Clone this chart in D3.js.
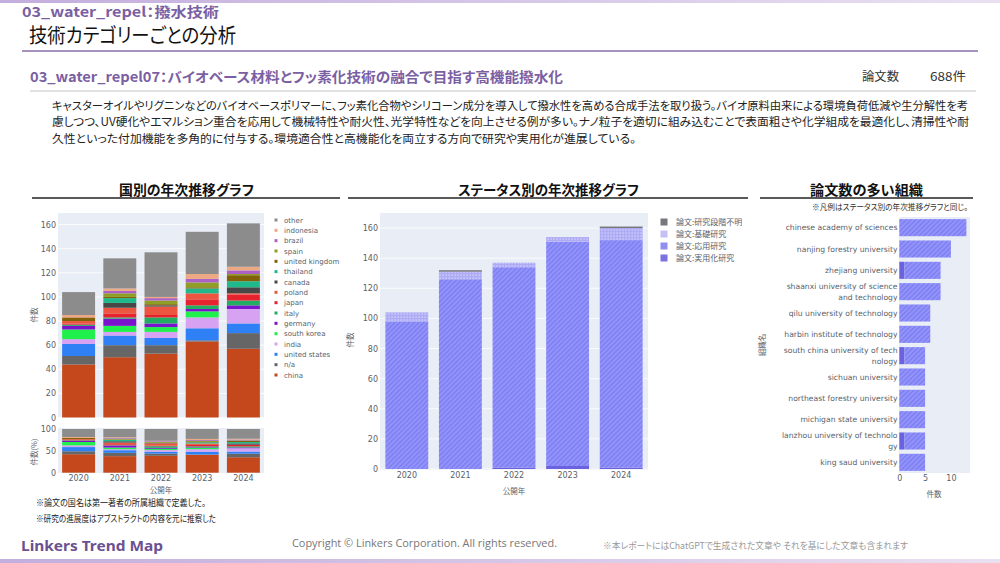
<!DOCTYPE html>
<meta charset="utf-8">
<style>
  html, body { margin: 0; padding: 0; background: #fff; overflow: hidden; }
  text { font-family: "Noto Sans CJK JP", sans-serif; font-feature-settings: "palt"; }
  .tick text, .latin { font-family: "DejaVu Sans", sans-serif; }
</style>

<!-- Load d3.js -->
<script src="https://d3js.org/d3.v7.js"></script>

<!-- Create a div where the graph will take place -->
<div id="my_dataviz"></div>

<script>

// data
const years = ["2020", "2021", "2022", "2023", "2024"];

const china         = [44, 50, 53, 63, 57];
const na            = [ 7, 10,  7,  1, 13];
const unitedStates  = [10,  8,  6, 10,  8];
const india         = [ 4,  3,  5,  9, 12];
const southKorea    = [ 8,  5,  4,  5,  0];
const germany       = [ 3,  6,  3,  2,  3];
const italy         = [ 1,  1,  5,  3,  4];
const japan         = [ 1,  3,  2,  5,  5];
const poland        = [ 2,  5,  7,  5,  1];
const canada        = [ 0,  4,  1,  0,  5];
const thailand      = [ 0,  4,  0,  4,  5];
const unitedKingdom = [ 3,  1,  1,  1,  5];
const spain         = [ 0,  3,  3,  4,  1];
const brazil        = [ 0,  2,  2,  3,  3];
const indonesia     = [ 2,  2,  1,  4,  3];
const other         = [19, 25, 37, 35, 36];

const countryNames = ["china", "n/a", "united states", "india", "south korea", "germany", "italy", "japan",
  "poland", "canada", "thailand", "united kingdom", "spain", "brazil", "indonesia", "other"];
const countrySeries = [china, na, unitedStates, india, southKorea, germany, italy, japan,
  poland, canada, thailand, unitedKingdom, spain, brazil, indonesia, other];
const countryColors = ["#c4481c", "#666666", "#2f7ff5", "#d8a2f2", "#1ff04c", "#7a14cc", "#22ad62", "#e6222e",
  "#ec5540", "#474747", "#1fb98c", "#806208", "#8f9e24", "#ab62c4", "#eda984", "#8c8c8c"];

const statusNames = ["論文:実用化研究", "論文:応用研究", "論文:基礎研究", "論文:研究段階不明"];
const practical = [0, 0, 1, 2, 1];
const applied   = [98, 126, 133, 149, 151];
const basic     = [6, 5, 3, 3, 8];
const unknown   = [0, 1, 0, 0, 1];

const orgNames = ["chinese academy of sciences", "nanjing forestry university", "zhejiang university",
  "shaanxi university of science\nand technology", "qilu university of technology", "harbin institute of technology",
  "south china university of tech\nnology", "sichuan university", "northeast forestry university",
  "michigan state university", "lanzhou university of technolo\ngy", "king saud university"];
const orgPractical = [0, 0, 1, 0, 0, 0, 1, 0, 0, 0, 1, 0];
const orgApplied   = [13, 10, 7, 8, 6, 6, 4, 5, 5, 5, 4, 5];

const bodyLines = [
  "キャスターオイルやリグニンなどのバイオベースポリマーに、フッ素化合物やシリコーン成分を導入して撥水性を高める合成手法を取り扱う。バイオ原料由来による環境負荷低減や生分解性を考",
  "慮しつつ、UV硬化やエマルション重合を応用して機械特性や耐火性、光学特性などを向上させる例が多い。ナノ粒子を適切に組み込むことで表面粗さや化学組成を最適化し、清掃性や耐",
  "久性といった付加機能を多角的に付与する。環境適合性と高機能化を両立する方向で研究や実用化が進展している。"
];

const purple = "#7b5fa3", axisGrey = "#5a5f6b", plotBg = "#e9edf6";

// append the svg object to the body of the page
const svg = d3.select("#my_dataviz")
.append("svg")
  .attr("width", 1000)
  .attr("height", 563)
  .style("display", "block");

const defs = svg.append("defs");

// top and bottom bands
const grad = defs.append("linearGradient").attr("id", "band");
grad.append("stop").attr("offset", "0%").attr("stop-color", "#c3aedd");
grad.append("stop").attr("offset", "60%").attr("stop-color", "#d9cbe9");
grad.append("stop").attr("offset", "100%").attr("stop-color", "#e9e1f2");

// hatch fills of the status bars
const hatch = defs.append("pattern").attr("id", "hatch")
  .attr("width", 3.4).attr("height", 3.4)
  .attr("patternUnits", "userSpaceOnUse")
  .attr("patternTransform", "rotate(-45)");
hatch.append("rect").attr("width", 3.4).attr("height", 3.4).attr("fill", "#9293fb");
hatch.append("rect").attr("width", 3.4).attr("height", 1.2).attr("fill", "#7a7bee");

const grid = defs.append("pattern").attr("id", "grid")
  .attr("width", 3).attr("height", 3)
  .attr("patternUnits", "userSpaceOnUse");
grid.append("rect").attr("width", 3).attr("height", 3).attr("fill", "#c4c2fb");
grid.append("rect").attr("width", 1.2).attr("height", 3).attr("fill", "#aeabf4");
grid.append("rect").attr("width", 3).attr("height", 1.2).attr("fill", "#aeabf4");

const statusFills = ["#6a62de", "url(#hatch)", "url(#grid)", "#77777c"];
const statusSwatches = ["#7a72e0", "#8f90f0", "#c4c0f6", "#77777c"];

function label(x, y, str, opts) {
  opts = opts || {};
  const t = svg.append("text")
    .attr("x", x).attr("y", y)
    .attr("font-size", opts.size || 10)
    .attr("font-weight", opts.weight || 400)
    .attr("fill", opts.fill || "#222")
    .attr("text-anchor", opts.anchor || "start")
    .text(str);
  if (opts.width) t.attr("textLength", opts.width).attr("lengthAdjust", "spacingAndGlyphs");
  if (opts.family) t.style("font-family", opts.family);
  if (opts.rotate) t.attr("transform", `rotate(-90,${x},${y})`);
  return t;
}

function rule(x1, x2, y, color, w) {
  svg.append("line").attr("x1", x1).attr("x2", x2).attr("y1", y).attr("y2", y)
    .attr("stroke", color).attr("stroke-width", w);
}

svg.append("rect").attr("width", 1000).attr("height", 3).attr("fill", "url(#band)");
svg.append("rect").attr("y", 559).attr("width", 1000).attr("height", 4).attr("fill", "url(#band)");

// headers
label(22, 17, "03_water_repel：撥水技術", {size: 14, weight: 700, fill: purple, width: 197});
label(29, 43, "技術カテゴリーごとの分析", {size: 20, fill: "#111", width: 207});
rule(22, 978, 51, "#8a6fa8", 1.3);
label(30, 82, "03_water_repel07：バイオベース材料とフッ素化技術の融合で目指す高機能撥水化", {size: 14, weight: 700, fill: purple, width: 533});
label(862, 81, "論文数", {size: 12, fill: "#333", width: 37});
label(930, 81, "688件", {size: 12, fill: "#333", width: 36});
rule(30, 976, 91, "#c4c4c4", 1);

bodyLines.forEach(function(line, i) {
  const w = i === 0 ? 916 : i === 1 ? 917 : 584;
  label(52, 110 + i * 16.3, line, {size: 11.5, fill: "#222", width: w});
});

// section titles
label(186.5, 195, "国別の年次推移グラフ", {size: 13.5, weight: 700, fill: "#111", anchor: "middle", width: 135});
label(548.5, 195, "ステータス別の年次推移グラフ", {size: 13.5, weight: 700, fill: "#111", anchor: "middle", width: 181});
label(866.5, 195, "論文数の多い組織", {size: 13.5, weight: 700, fill: "#111", anchor: "middle", width: 113});
rule(32, 340, 198, "#222", 1.3);
rule(348, 748, 198, "#222", 1.3);
rule(760, 973, 198, "#222", 1.3);
label(812, 210, "※凡例はステータス別の年次推移グラフと同じ。", {size: 8.5, fill: "#333", width: 156});

// draws the plot background and a white grid, then the tick labels
function styleAxis(g) {
  g.select(".domain").remove();
  g.selectAll(".tick line").remove();
  g.selectAll(".tick text").attr("fill", axisGrey).attr("font-size", 8);
}

function plotFrame(x0, x1, y0, y1) {
  svg.append("rect").attr("x", x0).attr("y", y0).attr("width", x1 - x0).attr("height", y1 - y0).attr("fill", plotBg);
}

function gridY(y, x0, x1, ticks) {
  svg.append("g").selectAll("line").data(ticks).join("line")
    .attr("x1", x0).attr("x2", x1)
    .attr("y1", function(d) { return y(d); }).attr("y2", function(d) { return y(d); })
    .attr("stroke", "#fff").attr("stroke-width", 0.8);
}

const yearRows = years.map(function(yr, i) {
  const row = {year: yr};
  countryNames.forEach(function(n, k) { row[n] = countrySeries[k][i]; });
  statusNames.forEach(function(n, k) { row[n] = [practical, applied, basic, unknown][k][i]; });
  return row;
});

// country chart: counts
const xCountry = d3.scaleBand().domain(years).range([58, 264]).paddingInner(0.2).paddingOuter(0.1);
const yCountry = d3.scaleLinear().domain([0, 169.6]).range([417.5, 213]);
const countTicks = [0, 20, 40, 60, 80, 100, 120, 140, 160];

plotFrame(58, 264, 213, 418);
gridY(yCountry, 58, 264, countTicks);

const countryStack = d3.stack().keys(countryNames);
const countryColor = d3.scaleOrdinal().domain(countryNames).range(countryColors);

svg.append("g").selectAll("g")
  .data(countryStack(yearRows))
  .join("g")
    .attr("fill", function(d) { return countryColor(d.key); })
  .selectAll("rect")
  .data(function(d) { return d; })
  .join("rect")
    .attr("x", function(d) { return xCountry(d.data.year); })
    .attr("y", function(d) { return yCountry(d[1]); })
    .attr("width", xCountry.bandwidth())
    .attr("height", function(d) { return yCountry(d[0]) - yCountry(d[1]); });

svg.append("g").attr("transform", "translate(56,0)")
  .call(d3.axisLeft(yCountry).tickValues(countTicks).tickSize(0).tickPadding(0))
  .call(styleAxis);
label(37, 315, "件数", {size: 7.5, fill: axisGrey, anchor: "middle", rotate: true});

// country chart: share
const yShare = d3.scaleLinear().domain([0, 1]).range([472.7, 429]);
plotFrame(58, 264, 428, 473);

const shareStack = d3.stack().keys(countryNames).offset(d3.stackOffsetExpand);
svg.append("g").selectAll("g")
  .data(shareStack(yearRows))
  .join("g")
    .attr("fill", function(d) { return countryColor(d.key); })
  .selectAll("rect")
  .data(function(d) { return d; })
  .join("rect")
    .attr("x", function(d) { return xCountry(d.data.year); })
    .attr("y", function(d) { return yShare(d[1]); })
    .attr("width", xCountry.bandwidth())
    .attr("height", function(d) { return yShare(d[0]) - yShare(d[1]); });

svg.append("g").attr("transform", "translate(56,0)")
  .call(d3.axisLeft(yShare).tickValues([0, 0.5, 1]).tickFormat(function(d) { return d * 100; }).tickSize(0).tickPadding(0))
  .call(styleAxis);
svg.append("g").attr("transform", "translate(0,473)")
  .call(d3.axisBottom(xCountry).tickSize(0).tickPadding(2))
  .call(styleAxis);
label(37, 452, "件数(%)", {size: 7.5, fill: axisGrey, anchor: "middle", rotate: true});
label(161, 493, "公開年", {size: 7.5, fill: axisGrey, anchor: "middle"});

// country legend, last series on top
const legendY = d3.scalePoint().domain(countryNames.slice().reverse()).range([220, 375]);
const legend = svg.append("g").selectAll("g").data(countryNames).join("g")
  .attr("transform", function(d) { return `translate(276,${legendY(d)})`; });
legend.append("rect").attr("x", -1.5).attr("y", -1.5).attr("width", 3).attr("height", 3)
  .attr("fill", function(d) { return countryColor(d); });
legend.append("text").attr("class", "latin").attr("x", 8).attr("y", 2.6)
  .attr("font-size", 7.05).attr("fill", axisGrey)
  .text(function(d) { return d; });

label(36, 506, "※論文の国名は第一著者の所属組織で定義した。", {size: 9, fill: "#222", width: 170});
label(36, 522, "※研究の進展度はアブストラクトの内容を元に推察した", {size: 9, fill: "#222", width: 180});

// status chart
const xStatus = d3.scaleBand().domain(years).range([380, 648]).paddingInner(0.2).paddingOuter(0.1);
const yStatus = d3.scaleLinear().domain([0, 170]).range([469, 213]);
const statusTicks = [0, 20, 40, 60, 80, 100, 120, 140, 160];

plotFrame(380, 648, 213, 470);
gridY(yStatus, 380, 648, statusTicks);

const statusStack = d3.stack().keys(statusNames);
svg.append("g").selectAll("g")
  .data(statusStack(yearRows))
  .join("g")
    .attr("fill", function(d, i) { return statusFills[i]; })
  .selectAll("rect")
  .data(function(d) { return d; })
  .join("rect")
    .attr("x", function(d) { return xStatus(d.data.year); })
    .attr("y", function(d) { return yStatus(d[1]); })
    .attr("width", xStatus.bandwidth())
    .attr("height", function(d) { return yStatus(d[0]) - yStatus(d[1]); });

svg.append("g").attr("transform", "translate(378,0)")
  .call(d3.axisLeft(yStatus).tickValues(statusTicks).tickSize(0).tickPadding(0))
  .call(styleAxis);
svg.append("g").attr("transform", "translate(0,470)")
  .call(d3.axisBottom(xStatus).tickSize(0).tickPadding(2))
  .call(styleAxis);
label(353, 340, "件数", {size: 7.5, fill: axisGrey, anchor: "middle", rotate: true});
label(514, 494, "公開年", {size: 7.5, fill: axisGrey, anchor: "middle"});

const statusLegendY = d3.scalePoint().domain(statusNames.slice().reverse()).range([222, 258]);
const statusLegend = svg.append("g").selectAll("g").data(statusNames).join("g")
  .attr("transform", function(d) { return `translate(664,${statusLegendY(d)})`; });
statusLegend.append("rect").attr("x", -3.5).attr("y", -3.5).attr("width", 7).attr("height", 7)
  .attr("fill", function(d, i) { return statusSwatches[i]; });
statusLegend.append("text").attr("x", 12).attr("y", 3)
  .attr("font-size", 8).attr("fill", axisGrey)
  .text(function(d) { return d; });

// organisation chart
const orgRows = orgNames.map(function(n, i) {
  return {name: n, practical: orgPractical[i], applied: orgApplied[i]};
});
const xOrg = d3.scaleLinear().domain([0, 13.7]).range([899.3, 970]);
const yOrg = d3.scaleBand().domain(orgNames).range([217, 473]).paddingInner(0.2).paddingOuter(0.1);

plotFrame(899, 970, 217, 473);

const orgFills = {practical: "#6a62de", applied: "url(#hatch)"};
svg.append("g").selectAll("g")
  .data(d3.stack().keys(["practical", "applied"])(orgRows))
  .join("g")
    .attr("fill", function(d) { return orgFills[d.key]; })
  .selectAll("rect")
  .data(function(d) { return d; })
  .join("rect")
    .attr("x", function(d) { return xOrg(d[0]); })
    .attr("y", function(d) { return yOrg(d.data.name); })
    .attr("width", function(d) { return xOrg(d[1]) - xOrg(d[0]); })
    .attr("height", yOrg.bandwidth());

// the long names wrap on two lines like the original
const orgLabels = svg.append("g").selectAll("text").data(orgNames).join("text")
  .attr("class", "latin")
  .attr("text-anchor", "end")
  .attr("font-size", 7.65)
  .attr("fill", axisGrey)
  .attr("y", function(d) { return yOrg(d) + yOrg.bandwidth() / 2 + 2.7; });
orgLabels.each(function(d) {
  const parts = d.split("\n");
  const t = d3.select(this);
  parts.forEach(function(p, i) {
    t.append("tspan").attr("x", 897.5)
      .attr("dy", i === 0 ? (parts.length - 1) * -5.3 : 10.6)
      .text(p);
  });
});

svg.append("g").attr("transform", "translate(0,473)")
  .call(d3.axisBottom(xOrg).tickValues([0, 5, 10]).tickSize(0).tickPadding(2))
  .call(styleAxis);
label(765, 345, "組織名", {size: 7.5, fill: axisGrey, anchor: "middle", rotate: true});
label(934, 497, "件数", {size: 7.5, fill: axisGrey, anchor: "middle"});

// footer
label(21, 551, "Linkers Trend Map", {size: 15, weight: 700, fill: "#6b5192", width: 142, family: "'Noto Sans', sans-serif"});
label(292, 547, "Copyright © Linkers Corporation. All rights reserved.", {size: 11, fill: "#777", width: 265, family: "'Open Sans', sans-serif"});
label(603, 549, "※本レポートにはChatGPTで生成された文章や それを基にした文章も含まれます", {size: 9, fill: "#999", width: 305});

</script>
